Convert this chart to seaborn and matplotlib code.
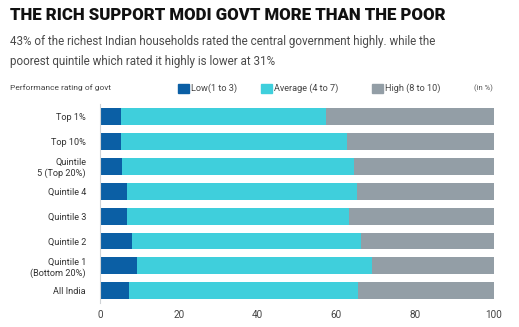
import matplotlib
matplotlib.use("Agg")
import matplotlib.pyplot as plt
import seaborn as sns
import pandas as pd
import numpy as np

categories = ["Top 1%", "Top 10%", "Quintile\n5 (Top 20%)", "Quintile 4", "Quintile 3",
              "Quintile 2", "Quintile 1\n(Bottom 20%)", "All India"]
low = [5.2, 5.2, 5.7, 6.9, 6.9, 8.2, 9.5, 7.4]
average = [52.1, 57.6, 58.8, 58.2, 56.4, 58.1, 59.5, 58.1]
high = [42.7, 37.2, 35.5, 34.9, 36.7, 33.7, 31.0, 34.5]
series_names = ["Low(1 to 3)", "Average (4 to 7)", "High (8 to 10)"]
x_ticks = [0, 20, 40, 60, 80, 100]

sns.set_theme(style="white")
plt.rcParams['font.family'] = ['Liberation Sans Narrow', 'Roboto', 'DejaVu Sans']

c_low = "#0b5fa5"
c_avg = "#3fcfdc"
c_high = "#939ea6"

df = pd.DataFrame({"cat": categories, "low": low, "avg": average, "high": high})
df["cum_avg"] = df["low"] + df["avg"]
df["cum_high"] = df["cum_avg"] + df["high"]

fig = plt.figure(figsize=(5.19, 3.27), dpi=100)
ax = fig.add_axes([0.1927, 0.073, 0.952 - 0.1927, 0.608])

sns.barplot(data=df, y="cat", x="cum_high", color=c_high, orient="h", width=0.68,
            ax=ax, saturation=1, edgecolor="none")
sns.barplot(data=df, y="cat", x="cum_avg", color=c_avg, orient="h", width=0.68,
            ax=ax, saturation=1, edgecolor="none")
sns.barplot(data=df, y="cat", x="low", color=c_low, orient="h", width=0.68,
            ax=ax, saturation=1, edgecolor="none")

ax.set_xlim(0, 100)
ax.set_xticks(x_ticks)
ax.set_xticklabels([str(t) for t in x_ticks], fontsize=7.2, color="#444444")
ax.tick_params(axis="y", labelsize=6.6, colors="#333333", length=0, pad=10)
ax.tick_params(axis="x", length=0, pad=5)
for lab in ax.get_yticklabels():
    lab.set_horizontalalignment("right")
    lab.set_multialignment("right")
ax.set_xlabel("")
ax.set_ylabel("")
for s in ["top", "right", "bottom"]:
    ax.spines[s].set_visible(False)
ax.spines["left"].set_color("#cfd3d6")
ax.spines["left"].set_linewidth(0.8)

renderer = fig.canvas.get_renderer()

def fit_text(t, target_px):
    w = t.get_window_extent(renderer=renderer).width
    t.set_fontsize(t.get_fontsize() * target_px / w)

# Title and subtitle
title = fig.text(10 / 519, 1 - 15 / 327, "THE RICH SUPPORT MODI GOVT MORE THAN THE POOR",
                 fontsize=14.5, fontweight=900,
                 color="#111111", va="center", ha="left")
fit_text(title, 437)
s1 = fig.text(10 / 519, 1 - 42 / 327,
              "43% of the richest Indian households rated the central government highly. while the",
              fontsize=8.3, color="#4a4a4a", va="center", ha="left")
s2 = fig.text(10 / 519, 1 - 61 / 327,
              "poorest quintile which rated it highly is lower at 31%",
              fontsize=8.3, color="#4a4a4a", va="center", ha="left")
fit_text(s1, 425)
s2.set_fontsize(s1.get_fontsize())

# Legend row
ly = 1 - 88 / 327
fig.text(10 / 519, ly, "Performance rating of govt", fontsize=6, color="#444444",
         va="center", ha="left")
for xpix, col, name in [(178, c_low, series_names[0]), (261, c_avg, series_names[1]),
                        (372, c_high, series_names[2])]:
    fig.patches.append(plt.Rectangle((xpix / 519, ly - 4.5 / 327), 11 / 519, 9 / 327,
                                     transform=fig.transFigure, color=col, figure=fig))
    fig.text((xpix + 13) / 519, ly, name, fontsize=6.6, color="#444444", va="center", ha="left")
fig.text(474 / 519, ly, "(in %)", fontsize=5.5, color="#555555", va="center", ha="left")

fig.savefig("out.png", dpi=100)
